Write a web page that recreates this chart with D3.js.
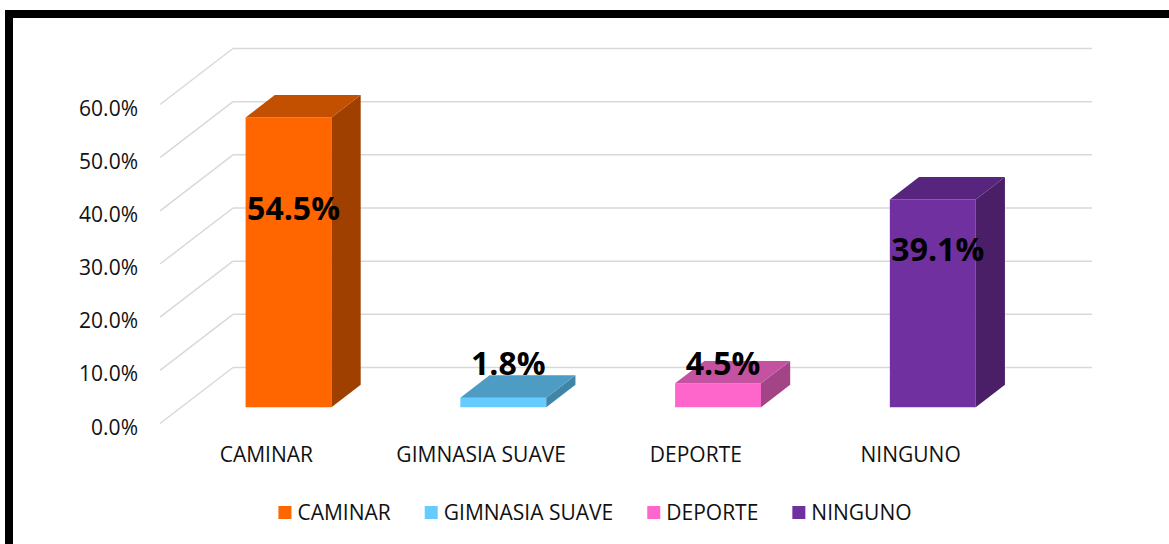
<!DOCTYPE html>
<html>
<head>
<meta charset="utf-8">
<script src="https://cdn.jsdelivr.net/npm/d3@7"></script>
<style>
  body { margin: 0; background: #fff; }
  svg { display: block; font-family: "Open Sans", "Noto Sans", sans-serif; }
</style>
</head>
<body>
<div id="chart"></div>
<script>
var categories = ['CAMINAR', 'GIMNASIA SUAVE', 'DEPORTE', 'NINGUNO'];
var values = [54.5, 1.8, 4.5, 39.1];
var yTicks = [0, 10, 20, 30, 40, 50, 60];
var frontColors = ['#FF6600', '#66CCFF', '#FF66CC', '#7030A0'];
var topColors = ['#C25000', '#4E9BC3', '#C552A0', '#57257E'];
var sideColors = ['#A04000', '#3F85A8', '#A24485', '#4A1F68'];

var width = 1169, height = 544;

// simple oblique projection: z = 0 at front of floor, z = 1 at back wall
var depthX = 73, depthY = 56;
var floorFrontY = 423.5;
var barZ0 = 0.29, barZ1 = 0.69;

var x = d3.scaleBand().domain(categories)
    .range([160, 1019])
    .paddingInner(0.6)
    .paddingOuter(0.3);
var y = d3.scaleLinear().domain([0, 60]).range([floorFrontY, floorFrontY - 319]);

function px(xv, z) { return xv + z * depthX; }
function py(yv, z) { return yv - z * depthY; }
function pt(xv, yv, z) { return px(xv, z) + ',' + py(yv, z); }

var svg = d3.select('#chart').append('svg')
    .attr('width', width)
    .attr('height', height);

svg.append('rect').attr('width', width).attr('height', height).attr('fill', '#fff');

// outer frame, cut at right and bottom like the screenshot
svg.append('rect')
    .attr('x', 9).attr('y', 14)
    .attr('width', width + 20).attr('height', height + 20)
    .attr('fill', 'none')
    .attr('stroke', '#000')
    .attr('stroke-width', 8);

var grid = svg.append('g').attr('class', 'grid');
yTicks.forEach(function (t) {
    // back wall
    grid.append('line')
        .attr('x1', px(160, 1)).attr('y1', py(y(t), 1))
        .attr('x2', px(1019, 1)).attr('y2', py(y(t), 1))
        .attr('stroke', '#D9D9D9').attr('stroke-width', 1.5);
    // side wall
    grid.append('line')
        .attr('x1', px(160, 1)).attr('y1', py(y(t), 1))
        .attr('x2', px(160, 0)).attr('y2', py(y(t), 0))
        .attr('stroke', '#D9D9D9').attr('stroke-width', 1.5);
});

svg.append('g').attr('class', 'y-labels')
    .selectAll('text').data(yTicks).enter().append('text')
    .attr('x', 138)
    .attr('y', function (d) { return y(d) + 11; })
    .attr('text-anchor', 'end')
    .attr('font-size', 21)
    .attr('fill', '#111')
    .text(function (d) { return d.toFixed(1) + '%'; });

var bars = svg.append('g').attr('class', 'bars')
    .selectAll('g').data(categories).enter().append('g');

bars.each(function (c, i) {
    var g = d3.select(this);
    var x0 = x(c), x1 = x(c) + x.bandwidth();
    var yb = y(0), yt = y(values[i]);
    g.append('polygon')
        .attr('points', [pt(x0, yb, barZ0), pt(x1, yb, barZ0), pt(x1, yt, barZ0), pt(x0, yt, barZ0)].join(' '))
        .attr('fill', frontColors[i]);
    g.append('polygon')
        .attr('points', [pt(x1, yb, barZ0), pt(x1, yb, barZ1), pt(x1, yt, barZ1), pt(x1, yt, barZ0)].join(' '))
        .attr('fill', sideColors[i]);
    g.append('polygon')
        .attr('points', [pt(x0, yt, barZ0), pt(x1, yt, barZ0), pt(x1, yt, barZ1), pt(x0, yt, barZ1)].join(' '))
        .attr('fill', topColors[i]);
});

// data labels
svg.append('g').attr('class', 'data-labels')
    .selectAll('text').data(categories).enter().append('text')
    .attr('x', function (c) { return px(x(c) + x.bandwidth() / 2, barZ0) + 5; })
    .attr('y', function (c, i) {
        var v = values[i];
        var cy = v > 10 ? (py(y(v), barZ0) + py(y(20), barZ0)) / 2 : py(y(0), barZ0) - 43;
        return cy + 11;
    })
    .attr('text-anchor', 'middle')
    .attr('font-size', 32)
    .attr('font-weight', 'bold')
    .attr('fill', '#000')
    .text(function (c, i) { return values[i].toFixed(1) + '%'; });

// category axis
svg.append('g').attr('class', 'x-labels')
    .selectAll('text').data(categories).enter().append('text')
    .attr('x', function (c) { return x(c) + x.bandwidth() / 2 - 1; })
    .attr('y', 462)
    .attr('text-anchor', 'middle')
    .attr('font-size', 21)
    .attr('fill', '#111')
    .text(function (c) { return c; });

// legend
var legend = svg.append('g').attr('class', 'legend');
var items = legend.selectAll('g').data(categories).enter().append('g');
items.append('rect')
    .attr('width', 13).attr('height', 13)
    .attr('y', 506)
    .attr('fill', function (c, i) { return frontColors[i]; });
items.append('text')
    .attr('x', 19)
    .attr('y', 520)
    .attr('font-size', 21)
    .attr('fill', '#111')
    .text(function (c) { return c; });

var offsets = [], cursor = 0;
items.each(function () {
    offsets.push(cursor);
    cursor += 19 + this.querySelector('text').getComputedTextLength() + 34;
});
var total = cursor - 34;
var start = 595 - total / 2;
items.attr('transform', function (c, i) { return 'translate(' + (start + offsets[i]) + ',0)'; });
</script>
</body>
</html>
